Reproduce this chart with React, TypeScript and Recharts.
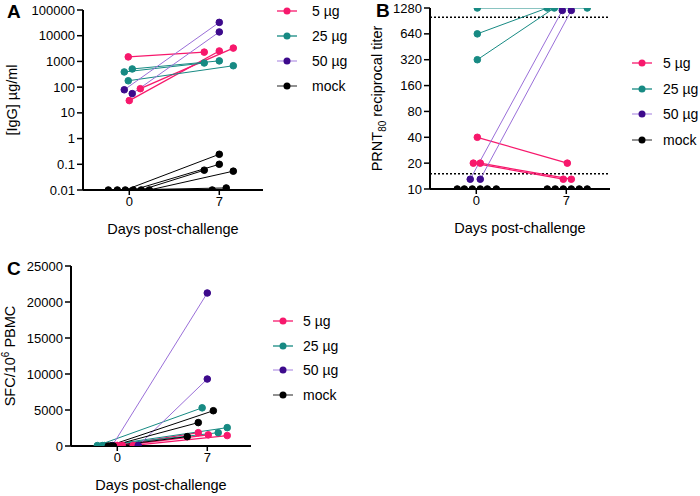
import React from 'react';
import { LineChart, Line, XAxis, YAxis, ReferenceLine, Label } from 'recharts';

// [day-0 x, day-0 value, day-7 x, day-7 value]; x is jittered around 0 and 7
type Pair = [number, number, number, number];

const groupNames = ['5 µg', '25 µg', '50 µg', 'mock'];
const dotColors = ['#f7186c', '#178a83', '#3d0a8c', '#000000'];
const lineColors = ['#f7186c', '#178a83', '#9a6fd8', '#000000'];

const dayTicks = [0, 7];

// A: IgG
const iggTicks = [0.01, 0.1, 1, 10, 100, 1000, 10000, 100000];
const igg5: Pair[] = [[-0.08, 1500, 5.83, 2300], [0, 30, 7, 2550], [0.86, 87, 8.09, 3300]];
const igg25: Pair[] = [[-0.39, 390, 5.83, 870], [0.23, 510, 7, 1050], [-0.08, 177, 8.09, 680]];
const igg50: Pair[] = [[-0.39, 79, 7, 33000], [0.23, 56, 7, 14000]];
const iggMock: Pair[] = [
    [-0.31, 0.01, 7, 0.245], [0.31, 0.01, 7, 0.1], [0.93, 0.01, 5.83, 0.059],
    [1.56, 0.01, 8.09, 0.054], [-1.63, 0.01, 6.45, 0.01], [-0.93, 0.01, 7.54, 0.012]
];

// B: PRNT80
const prntTicks = [10, 20, 40, 80, 160, 320, 640, 1280];
const prntCutoffs = [15, 1000];
const prnt5: Pair[] = [[0.08, 40, 7.08, 20], [-0.23, 20, 6.77, 13], [0.31, 20, 7.39, 13]];
const prnt25: Pair[] = [[0.08, 1280, 8.63, 1280], [0.08, 640, 5.52, 1280], [0.08, 320, 6.07, 1280]];
const prnt50: Pair[] = [[-0.47, 13, 6.69, 1200], [0.31, 13, 7.39, 1200]];
const prntMock: Pair[] = [
    [-1.48, 10, 5.52, 10], [-0.93, 10, 6.14, 10], [-0.31, 10, 6.77, 10],
    [0.31, 10, 7.39, 10], [0.86, 10, 8.01, 10], [1.56, 10, 8.63, 10]
];

// C: SFC / 10^6 PBMC
const sfcTicks = [0, 5000, 10000, 15000, 20000, 25000];
const sfc5: Pair[] = [[0, 80, 6.3, 1850], [0.39, 80, 7.08, 1550], [1.24, 80, 8.55, 1450]];
const sfc25: Pair[] = [[-1.55, 60, 6.6, 5300], [-1.17, 60, 7.85, 1850], [-1.0, 60, 8.55, 2550]];
const sfc50: Pair[] = [[-0.39, 60, 7, 21250], [1.63, 60, 7, 9300]];
const sfcMock: Pair[] = [[-0.7, 0, 7.47, 4900], [-0.5, 0, 6.3, 3250], [-0.3, 0, 5.44, 1300]];

const FONT = '"Liberation Sans", Arial, Helvetica, sans-serif';
const X_DOMAIN: [number, number] = [-3.6, 10.4];
const tickStyle = { fill: '#000', fontSize: 13, fontFamily: FONT };

// one Line per animal: two points joined, day 0 -> day 7
const renderPairs = (groups: Pair[][], prefix: string) =>
    groups.map((pairs, g) =>
        pairs.map((p, i) => (
            <Line
                key={`${prefix}-${g}-${i}`}
                data={[{ x: p[0], y: p[1] }, { x: p[2], y: p[3] }]}
                dataKey="y"
                stroke={lineColors[g]}
                strokeWidth={g === 0 ? 1.3 : 1}
                dot={{ r: 3.3, fill: dotColors[g], stroke: dotColors[g], strokeWidth: 1 }}
                activeDot={false}
                legendType="none"
                isAnimationActive={false}
            />
        ))
    );

const XTitle = ({ viewBox }: any) => (
    <text x={viewBox.x + viewBox.width / 2} y={viewBox.y + 44} textAnchor="middle"
        fontSize={14.5} fontFamily={FONT} fill="#000">Days post-challenge</text>
);

const YTitle = ({ viewBox, bx, children }: any) => {
    const cy = viewBox.y + viewBox.height / 2;
    return (
        <text x={bx} y={cy} transform={`rotate(-90, ${bx}, ${cy})`} textAnchor="middle"
            fontSize={14.5} fontFamily={FONT} fill="#000">{children}</text>
    );
};

const GroupLegend = ({ left, top, step, textX }: any) => (
    <div style={{ position: 'absolute', left, top, fontFamily: FONT, fontSize: 14 }}>
        {groupNames.map((name, i) => (
            <div key={name} style={{ position: 'absolute', top: i * step - 9, left: 0, height: 18, width: 100 }}>
                <svg width={20} height={18} style={{ position: 'absolute', left: 0, top: 0 }}>
                    <line x1={0} x2={20} y1={9} y2={9} stroke={i === 2 ? '#b89be6' : i === 3 ? '#555' : lineColors[i]} strokeWidth={1.3} />
                    <circle cx={10} cy={9} r={3.5} fill={dotColors[i]} />
                </svg>
                <span style={{ position: 'absolute', left: textX, top: 0, lineHeight: '18px', whiteSpace: 'nowrap' }}>{name}</span>
            </div>
        ))}
    </div>
);

const axisProps = { stroke: '#000', strokeWidth: 2, tickLine: { stroke: '#000', strokeWidth: 1.5 }, tick: tickStyle, tickSize: 6 };

const PanelLetter = ({ left, top, children }: any) => (
    <div style={{ position: 'absolute', left, top, fontFamily: FONT, fontWeight: 'bold', fontSize: 19 }}>{children}</div>
);

export default function App() {
    return (
        <div style={{ position: 'absolute', left: 0, top: 0, width: 700, height: 496, background: '#fff', overflow: 'hidden' }}>
            {/* A */}
            <div style={{ position: 'absolute', left: 0, top: 0 }}>
                <LineChart width={370} height={250} margin={{ top: 10, right: 107, bottom: 15, left: 0 }}>
                    <XAxis type="number" dataKey="x" domain={X_DOMAIN} ticks={dayTicks} allowDataOverflow height={45} {...axisProps} tickSize={5}>
                        <Label content={<XTitle />} />
                    </XAxis>
                    <YAxis type="number" scale="log" domain={[0.01, 100000]} ticks={iggTicks} allowDataOverflow width={83} {...axisProps} interval={0}>
                        <Label content={<YTitle bx={17}>[IgG] µg/ml</YTitle>} />
                    </YAxis>
                    {renderPairs([igg5, igg25, igg50, iggMock], 'a')}
                </LineChart>
            </div>
            <GroupLegend left={277} top={11} step={25} textX={35} />

            {/* B */}
            <div style={{ position: 'absolute', left: 350, top: 0 }}>
                <LineChart width={350} height={250} margin={{ top: 8, right: 90, bottom: 15, left: 0 }}>
                    <XAxis type="number" dataKey="x" domain={X_DOMAIN} ticks={dayTicks} allowDataOverflow height={46} {...axisProps} tickSize={5}>
                        <Label content={<XTitle />} />
                    </XAxis>
                    <YAxis type="number" scale="log" domain={[10, 1280]} ticks={prntTicks} allowDataOverflow width={80} {...axisProps} interval={0}>
                        <Label content={<YTitle bx={32}>PRNT<tspan fontSize={10} dy={4}>80</tspan><tspan dy={-4}> reciprocal titer</tspan></YTitle>} />
                    </YAxis>
                    {prntCutoffs.map(v => (
                        <ReferenceLine key={v} y={v} stroke="#000" strokeWidth={1.5} strokeDasharray="2 2" />
                    ))}
                    {renderPairs([prnt5, prnt25, prnt50, prntMock], 'b')}
                </LineChart>
            </div>
            <GroupLegend left={632} top={63} step={25.7} textX={31} />

            {/* C */}
            <div style={{ position: 'absolute', left: 0, top: 250 }}>
                <LineChart width={370} height={246} margin={{ top: 16, right: 119, bottom: 5, left: 0 }}>
                    <XAxis type="number" dataKey="x" domain={X_DOMAIN} ticks={dayTicks} allowDataOverflow height={45} {...axisProps} tickSize={5}>
                        <Label content={<XTitle />} />
                    </XAxis>
                    <YAxis type="number" domain={[0, 25000]} ticks={sfcTicks} allowDataOverflow width={71} {...axisProps} interval={0}>
                        <Label content={<YTitle bx={15}>SFC/10<tspan fontSize={10} dy={-6}>6</tspan><tspan dy={6}> PBMC</tspan></YTitle>} />
                    </YAxis>
                    {renderPairs([sfc5, sfc25, sfc50, sfcMock], 'c')}
                </LineChart>
            </div>
            <GroupLegend left={273} top={321} step={24.7} textX={30} />

            <PanelLetter left={7} top={1}>A</PanelLetter>
            <PanelLetter left={376} top={0}>B</PanelLetter>
            <PanelLetter left={7} top={258}>C</PanelLetter>
        </div>
    );
}
